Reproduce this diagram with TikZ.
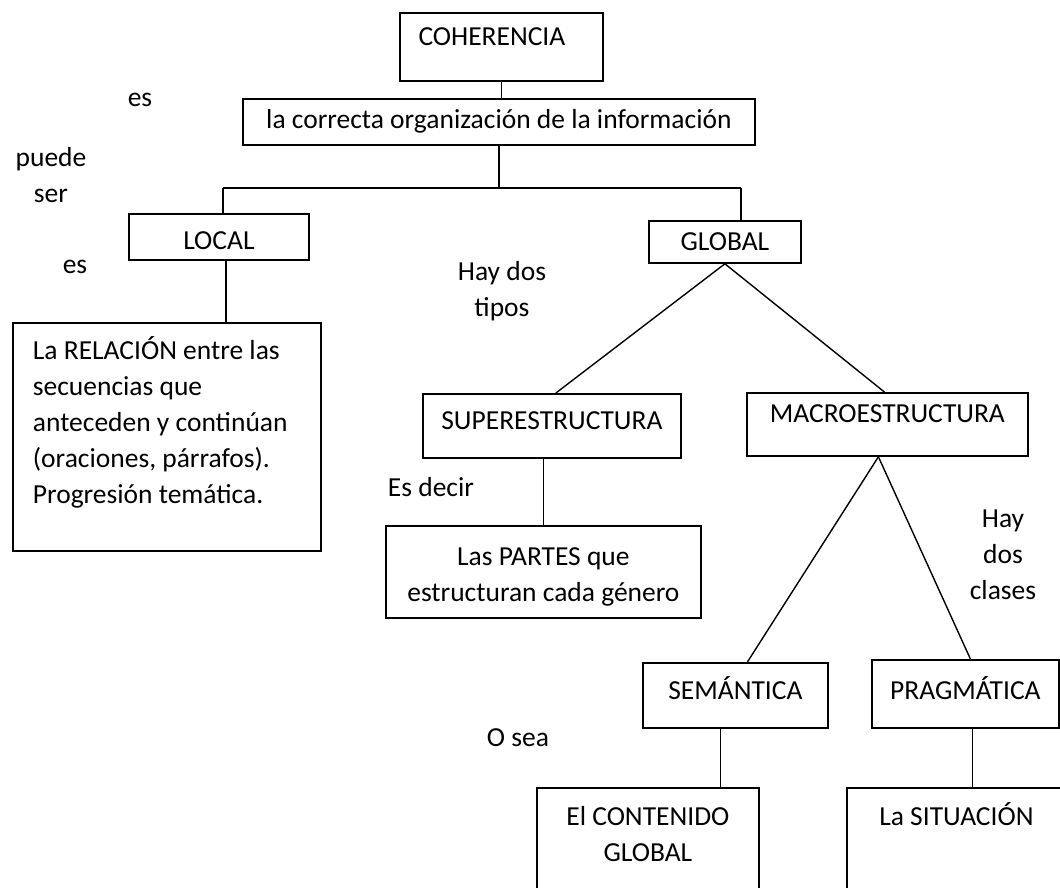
\documentclass[tikz,border=0pt]{standalone}
\usepackage{fontspec}
\setmainfont{Carlito}
\begin{document}
\begin{tikzpicture}[x=1pt,y=-1pt,
	box/.style={draw,line width=1.8pt,inner sep=0pt,anchor=north west},
	link/.style={line width=1.4pt},
	word/.style={inner sep=0pt,align=center}]
			\newcommand{\mapfont}{\fontsize{27.5}{36}\selectfont}
			\mapfont
			%Page frame
			\useasboundingbox[fill=white] (0,0) rectangle (1060,888);
			\clip (0,0) rectangle (1060,888);
			%Top level
			\node [box,minimum width=203pt,text height=33pt,text depth=35pt] (coh) at (399,12) {COHERENCIA\hspace*{19pt}};
			\node [box,minimum width=512pt,text height=30pt,text depth=16pt] (info) at (242,98) {la correcta organización de la información};
			%Branch point below the information box
			\coordinate (branchL) at (223,188);
			\coordinate (branchR) at (741,188);
			%Second level
			\node [box,minimum width=180pt,text height=36pt,text depth=10pt] (local) at (128,213) {LOCAL};
			\node [box,minimum width=152pt,text height=30pt,text depth=12pt] (global) at (648,220) {GLOBAL};
			%Local side
			\node [box,align=flush left,text width=268pt,inner xsep=20pt,text height=37pt,text depth=191pt] (relacion) at (12,322) {La RELACIÓN entre las\\secuencias que\\anteceden y continúan\\(oraciones, párrafos).\\Progresión temática.};
			%Global side
			\node [box,minimum width=258pt,text height=36pt,text depth=28pt] (super) at (422,393) {SUPERESTRUCTURA};
			\node [box,minimum width=281pt,text height=30pt,text depth=33pt] (macro) at (746,392) {MACROESTRUCTURA};
			\node [box,align=flush center,text width=315pt,text height=40pt,text depth=52pt] (partes) at (385,525) {Las PARTES que\\estructuran cada género};
			\node [box,minimum width=185pt,text height=37pt,text depth=28pt] (sem) at (642,662) {SEMÁNTICA};
			\node [box,minimum width=187pt,text height=40pt,text depth=28pt] (prag) at (871,659) {PRAGMÁTICA};
			%Bottom boxes, cut by the lower edge
			\node [box,align=flush center,text width=222pt,text height=38pt,text depth=90pt] (contenido) at (536,787) {El CONTENIDO\\GLOBAL};
			\node [box,minimum width=220pt,text height=38pt,text depth=90pt] (situacion) at (846,787) {La SITUACIÓN\hspace*{1pt}};
			%Connectors
			\draw [link] (coh.south) -- (coh.south |- info.north);
			\draw [link] (info.south) -- (info.south |- branchL);
			\draw [link] (branchL) -- (branchR);
			\draw [link] (branchL) -- (branchL |- local.north);
			\draw [link] (branchR) -- (branchR |- global.north);
			\draw [link] ([xshift=7pt]local.south) -- ([xshift=7pt]local.south |- relacion.north);
			\draw [link] (global.south) -- ([xshift=4pt]super.north);
			\draw [link] (global.south) -- ([xshift=-3pt]macro.north);
			\draw [link] (partes.north |- super.south) -- (partes.north);
			\draw [link] ([xshift=-9pt]macro.south) -- ([xshift=12pt]sem.north);
			\draw [link] ([xshift=-9pt]macro.south) -- ([xshift=5pt]prag.north);
			\draw [link] ([xshift=-15pt]sem.south) -- ([xshift=-15pt]sem.south |- contenido.north);
			\draw [link] ([xshift=7pt]prag.south) -- ([xshift=7pt]prag.south |- situacion.north);
			%Link words
			\node [word] (es1) at (140,100) {es};
			\node [word] (puede) at (51,175) {puede\\ser};
			\node [word] (es2) at (75,267) {es};
			\node [word] (tipos) at (502,291) {Hay dos\\tipos};
			\node [word] (decir) at (431,487) {Es decir};
			\node [word] (clases) at (1003,555) {Hay\\dos\\clases};
			\node [word] (osea) at (518,738) {O sea};
\end{tikzpicture}
\end{document}
